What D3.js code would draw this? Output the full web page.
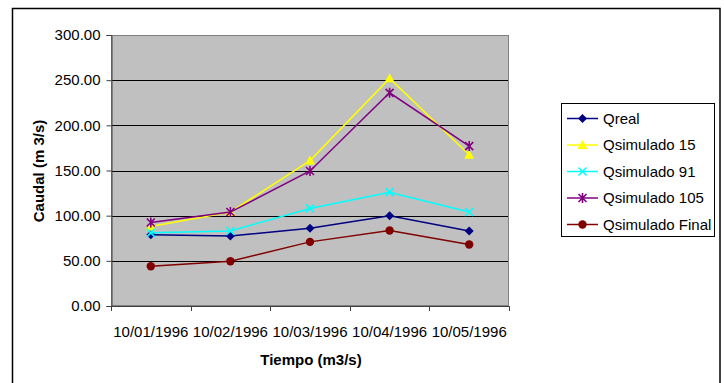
<!DOCTYPE html>
<html>
<head>
<meta charset="utf-8">
<script src="https://cdn.jsdelivr.net/npm/d3@7"></script>
<style>
  html, body { margin: 0; padding: 0; background: #fff; }
  svg { display: block; font-family: "Liberation Sans", Arial, sans-serif; }
</style>
</head>
<body>
<div id="chart"></div>
<script>
// datos
const fechas = ["10/01/1996", "10/02/1996", "10/03/1996", "10/04/1996", "10/05/1996"];
const qReal = [79, 77.5, 86, 100, 83];
const qSim15 = [88, 104, 161, 252, 167.5];
const qSim91 = [81, 83, 108, 126, 104];
const qSim105 = [92.5, 104, 149.5, 236, 177];
const qSimFinal = [44, 49.5, 71, 83.5, 68];
const yTicks = [0, 50, 100, 150, 200, 250, 300];

const series = [
  { name: "Qreal", values: qReal, color: "#000080", marker: "diamond" },
  { name: "Qsimulado 15", values: qSim15, color: "#ffff00", marker: "triangle" },
  { name: "Qsimulado 91", values: qSim91, color: "#00ffff", marker: "x" },
  { name: "Qsimulado 105", values: qSim105, color: "#800080", marker: "star" },
  { name: "Qsimulado Final", values: qSimFinal, color: "#800000", marker: "circle" }
];

const width = 724, height = 383;
const plot = { left: 111, right: 509, top: 35, bottom: 306 };

const svg = d3.select("#chart").append("svg")
  .attr("width", width).attr("height", height);

// marco exterior
svg.append("rect")
  .attr("x", 12.5).attr("y", 8.5)
  .attr("width", 707.5).attr("height", 400)
  .attr("fill", "#fff").attr("stroke", "#000").attr("stroke-width", 1.5);

const x = d3.scaleBand().domain(fechas).range([plot.left, plot.right]);
const y = d3.scaleLinear().domain([0, 300]).range([plot.bottom, plot.top]);

// área de trazado
svg.append("rect")
  .attr("x", plot.left).attr("y", plot.top)
  .attr("width", plot.right - plot.left).attr("height", plot.bottom - plot.top)
  .attr("fill", "#c0c0c0");

// líneas de cuadrícula
svg.append("g").selectAll("line")
  .data(yTicks.filter(d => d > 0))
  .join("line")
  .attr("x1", plot.left).attr("x2", plot.right)
  .attr("y1", d => Math.round(y(d)) + 0.5).attr("y2", d => Math.round(y(d)) + 0.5)
  .attr("stroke", "#000").attr("stroke-width", 1);

// borde del área
svg.append("rect")
  .attr("x", plot.left + 0.5).attr("y", plot.top + 0.5)
  .attr("width", plot.right - plot.left - 1).attr("height", plot.bottom - plot.top - 1)
  .attr("fill", "none").attr("stroke", "#808080").attr("stroke-width", 1);

// eje Y
const yAxis = svg.append("g")
  .attr("transform", `translate(${plot.left + 0.5},0)`)
  .call(d3.axisLeft(y).tickValues(yTicks).tickFormat(d3.format(".2f")).tickSize(5).tickPadding(6));
yAxis.select(".domain").attr("stroke", "#404040");
yAxis.selectAll(".tick line").attr("stroke", "#404040");
yAxis.selectAll("text").attr("font-size", "15px").attr("fill", "#000")
  .attr("font-family", "Liberation Sans, Arial, sans-serif");

// eje X: marcas entre categorías
const bounds = fechas.map(d => x(d)).concat([x(fechas[fechas.length - 1]) + x.bandwidth()]);
const xAxis = svg.append("g");
xAxis.append("line")
  .attr("x1", plot.left).attr("x2", plot.right)
  .attr("y1", plot.bottom + 0.5).attr("y2", plot.bottom + 0.5)
  .attr("stroke", "#404040");
xAxis.selectAll(".tk").data(bounds).join("line")
  .attr("x1", d => Math.round(d) + 0.5).attr("x2", d => Math.round(d) + 0.5)
  .attr("y1", plot.bottom).attr("y2", plot.bottom + 5)
  .attr("stroke", "#404040");
xAxis.selectAll("text").data(fechas).join("text")
  .attr("x", d => x(d) + x.bandwidth() / 2)
  .attr("y", 337)
  .attr("text-anchor", "middle")
  .attr("font-size", "15px")
  .text(d => d);

// títulos de ejes
svg.append("text")
  .attr("x", 311).attr("y", 365)
  .attr("text-anchor", "middle")
  .attr("font-size", "15px").attr("font-weight", "bold")
  .text("Tiempo (m3/s)");

svg.append("text")
  .attr("transform", "translate(44,171) rotate(-90)")
  .attr("text-anchor", "middle")
  .attr("font-size", "15px").attr("font-weight", "bold")
  .text("Caudal (m 3/s)");

// marcadores
function drawMarker(g, type, color) {
  if (type === "diamond") {
    g.append("path").attr("d", "M0,-4.5L4.5,0L0,4.5L-4.5,0Z").attr("fill", color);
  } else if (type === "triangle") {
    g.append("path").attr("d", "M0,-5L5,4L-5,4Z").attr("fill", color);
  } else if (type === "x") {
    g.append("path").attr("d", "M-4,-4L4,4M-4,4L4,-4").attr("stroke", color).attr("stroke-width", 1.6);
  } else if (type === "star") {
    g.append("path").attr("d", "M-4,-4L4,4M-4,4L4,-4M0,-5L0,5").attr("stroke", color).attr("stroke-width", 1.6);
  } else {
    g.append("circle").attr("r", 4.2).attr("fill", color);
  }
}

const line = d3.line()
  .x((d, i) => x(fechas[i]) + x.bandwidth() / 2)
  .y(d => y(d));

series.forEach(s => {
  svg.append("path")
    .attr("d", line(s.values))
    .attr("fill", "none")
    .attr("stroke", s.color)
    .attr("stroke-width", 1.5);
  s.values.forEach((v, i) => {
    const g = svg.append("g")
      .attr("transform", `translate(${x(fechas[i]) + x.bandwidth() / 2},${y(v)})`);
    drawMarker(g, s.marker, s.color);
  });
});

// leyenda
const legend = svg.append("g");
legend.append("rect")
  .attr("x", 561.5).attr("y", 103.5).attr("width", 153).attr("height", 133)
  .attr("fill", "#fff").attr("stroke", "#000").attr("stroke-width", 1);

const items = legend.selectAll(".item").data(series).join("g")
  .attr("transform", (d, i) => `translate(0,${118.5 + i * 26.5})`);
items.append("line")
  .attr("x1", 567).attr("x2", 598).attr("y1", 0).attr("y2", 0)
  .attr("stroke", d => d.color).attr("stroke-width", 1.5);
items.each(function (d) {
  const g = d3.select(this).append("g").attr("transform", "translate(582.5,0)");
  drawMarker(g, d.marker, d.color);
});
items.append("text")
  .attr("x", 603).attr("y", 5)
  .attr("font-size", "15px")
  .text(d => d.name);
</script>
</body>
</html>
